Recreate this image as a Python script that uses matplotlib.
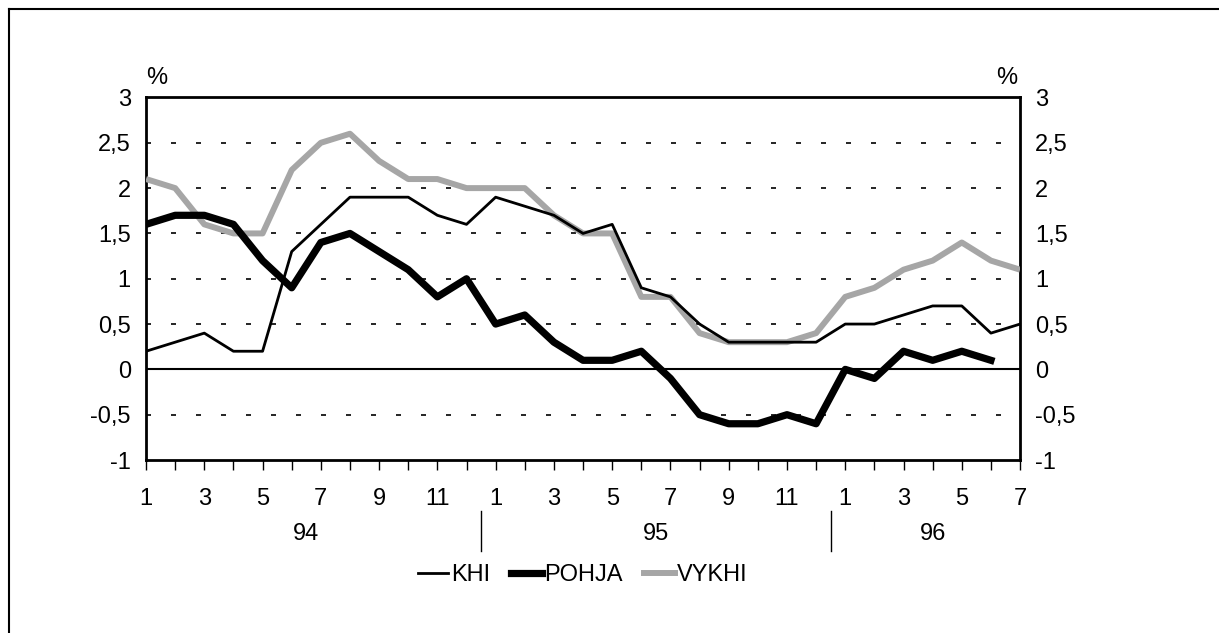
import matplotlib
matplotlib.use("Agg")
from matplotlib import pyplot as plt
from matplotlib.lines import Line2D
import matplotlib.font_manager as fm

# monthly series 1/94 .. 7/96
months = [1, 2, 3, 4, 5, 6, 7, 8, 9, 10, 11, 12,
          1, 2, 3, 4, 5, 6, 7, 8, 9, 10, 11, 12,
          1, 2, 3, 4, 5, 6, 7]
years = ["94", "95", "96"]

khi = [0.2, 0.3, 0.4, 0.2, 0.2, 1.3, 1.6, 1.9, 1.9, 1.9, 1.7, 1.6,
       1.9, 1.8, 1.7, 1.5, 1.6, 0.9, 0.8, 0.5, 0.3, 0.3, 0.3, 0.3,
       0.5, 0.5, 0.6, 0.7, 0.7, 0.4, 0.5]
pohja = [1.6, 1.7, 1.7, 1.6, 1.2, 0.9, 1.4, 1.5, 1.3, 1.1, 0.8, 1.0,
         0.5, 0.6, 0.3, 0.1, 0.1, 0.2, -0.1, -0.5, -0.6, -0.6, -0.5, -0.6,
         0.0, -0.1, 0.2, 0.1, 0.2, 0.1]
vykhi = [2.1, 2.0, 1.6, 1.5, 1.5, 2.2, 2.5, 2.6, 2.3, 2.1, 2.1, 2.0,
         2.0, 2.0, 1.7, 1.5, 1.5, 0.8, 0.8, 0.4, 0.3, 0.3, 0.3, 0.4,
         0.8, 0.9, 1.1, 1.2, 1.4, 1.2, 1.1]

yticks = [-1, -0.5, 0, 0.5, 1, 1.5, 2, 2.5, 3]
ytick_labels = ["-1", "-0,5", "0", "0,5", "1", "1,5", "2", "2,5", "3"]

# pick a narrow font if there is one
names = set(f.name for f in fm.fontManager.ttflist)
if "Liberation Sans Narrow" in names:
    plt.rcParams["font.family"] = ["Liberation Sans Narrow", "DejaVu Sans"]
else:
    plt.rcParams["font.family"] = ["Liberation Sans", "DejaVu Sans"]
fs = 17

fig = plt.figure(figsize=(12.19, 6.33), dpi=100)
ax = fig.add_axes([0.1198, 0.2733, 0.7170, 0.5727])

x = list(range(len(months)))
ax.plot(x, vykhi, color="#a6a6a6", lw=4.3, solid_capstyle="butt", zorder=3)
ax.plot(x, khi, color="black", lw=2.0, zorder=4)
ax.plot(x[:len(pohja)], pohja, color="black", lw=5.2, zorder=5)

# gridlines
for v in yticks:
    if v in (-1, 0, 3):
        continue
    ax.axhline(v, color="black", lw=1.2, ls=(0, (3, 12)), zorder=1)
ax.axhline(0, color="black", lw=1.5, zorder=2)

ax.set_xlim(0, 30)
ax.set_ylim(-1, 3)
ax.set_yticks(yticks)
ax.set_yticklabels(ytick_labels, fontsize=fs)
ax.tick_params(axis="y", length=0, pad=11, labelright=True, right=False)

ax.set_xticks(x)
ax.set_xticklabels([str(m) if i % 2 == 0 else "" for i, m in enumerate(months)], fontsize=fs)
ax.tick_params(axis="x", direction="out", length=7, width=1, pad=13)

for s in ax.spines.values():
    s.set_linewidth(2)

# year labels and separators
trans = ax.get_xaxis_transform()
ax.text(5.5, -0.205, years[0], transform=trans, ha="center", va="center", fontsize=fs)
ax.text(17.5, -0.205, years[1], transform=trans, ha="center", va="center", fontsize=fs)
ax.text(27, -0.205, years[2], transform=trans, ha="center", va="center", fontsize=fs)
for xs in (11.5, 23.5):
    ax.plot([xs, xs], [-0.14, -0.25], transform=trans, color="black", lw=1, clip_on=False)

ax.text(0.0, 1.055, "%", transform=ax.transAxes, ha="left", va="center", fontsize=fs)
ax.text(0.997, 1.055, "%", transform=ax.transAxes, ha="right", va="center", fontsize=fs)

handles = [Line2D([], [], color="black", lw=2.0),
           Line2D([], [], color="black", lw=5.2),
           Line2D([], [], color="#a6a6a6", lw=4.3)]
fig.legend(handles, ["KHI", "POHJA", "VYKHI"], loc="center", bbox_to_anchor=(0.478, 0.092),
           ncol=3, frameon=False, fontsize=fs, handlelength=1.3, handletextpad=0.1,
           columnspacing=0.9)

# outer frame
fig.add_artist(Line2D([0.0074, 1], [0.9858, 0.9858], color="black", lw=1.5))
fig.add_artist(Line2D([0.0074, 0.0074], [0, 0.9858], color="black", lw=1.5))

fig.savefig("out.png", dpi=100)
